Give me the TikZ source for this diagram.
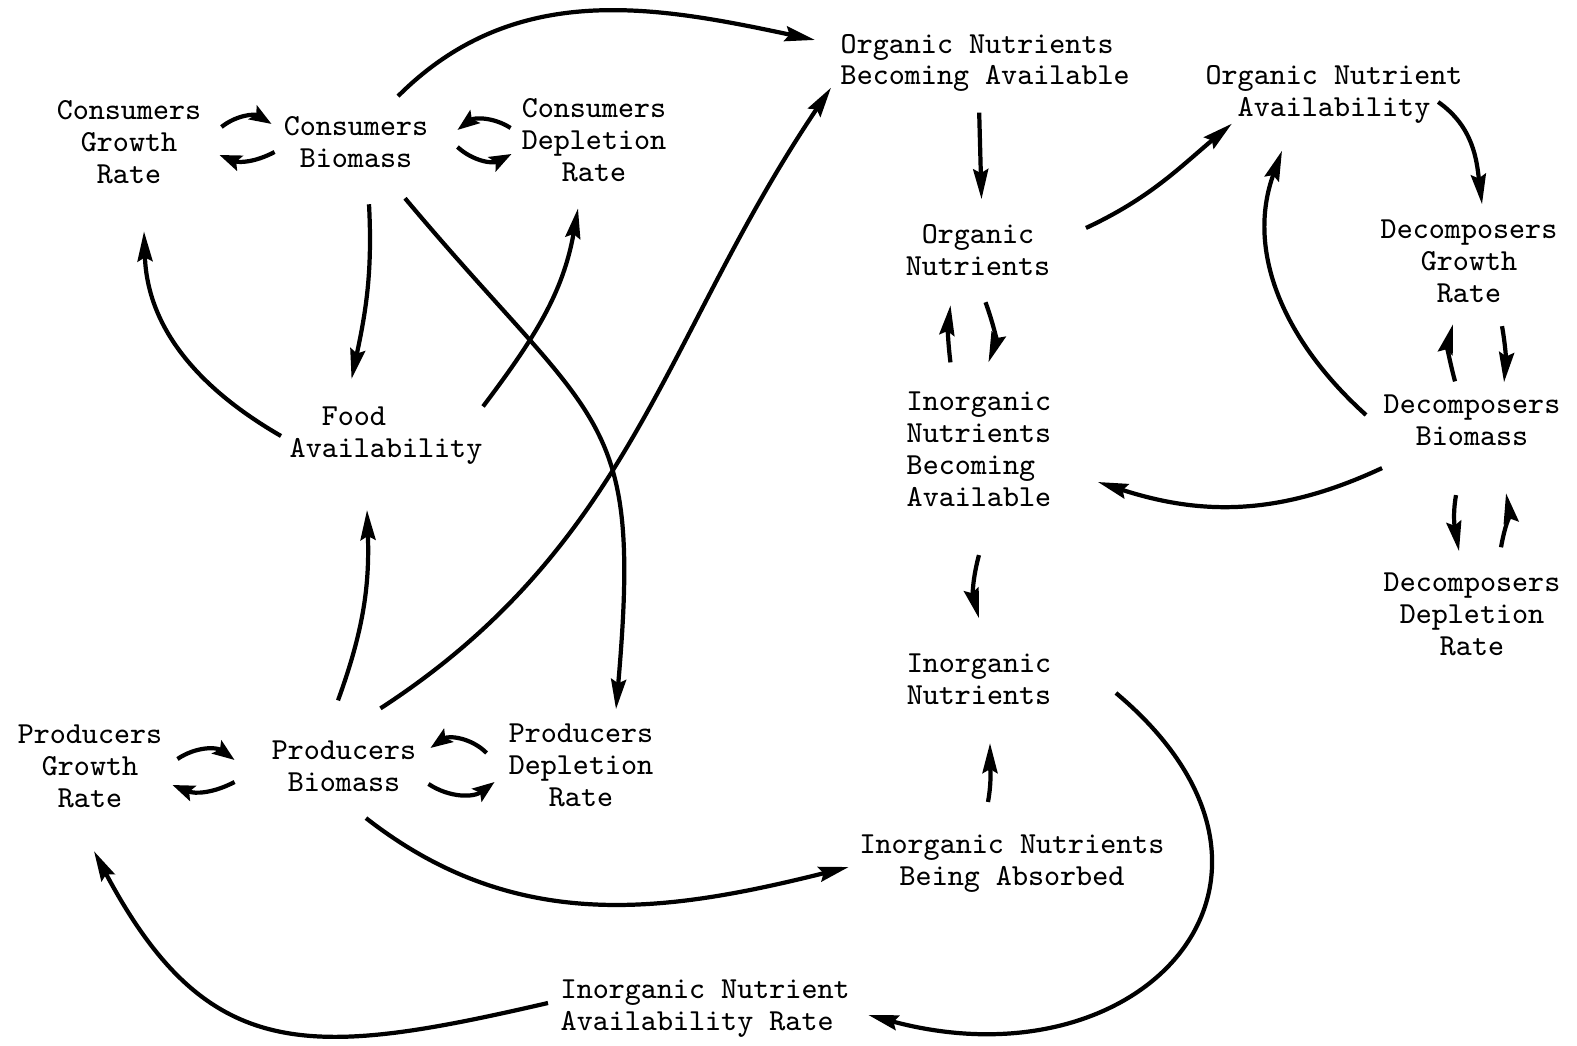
\documentclass[tikz,border=0pt]{standalone}
\usepackage{fontspec}
\usepackage{tikz}
\usetikzlibrary{arrows.meta, positioning}

\tikzset{
	var/.style={font=\fontsize{8.7}{9.1}\selectfont\ttfamily, align=center, inner sep=0pt},
	lvar/.style={var, align=left, anchor=west},
	link/.style={-{Stealth[length=3mm,width=1.5mm,inset=0.4mm]}, line width=1.2pt},
	loop/.style={-{Stealth[length=2.2mm,width=1.6mm,inset=0.4mm]}, line width=1.2pt}
}

\begin{document}
\begin{tikzpicture}
		\useasboundingbox (0,0) rectangle (15.77,10.46);
		%% consumers
		\node[var] (cgr) at (1.29,9.04) {Consumers\\Growth\\Rate};
		\node[var] (cb) at (3.56,9.04) {Consumers\\Biomass};
		\node[var] (cdr) at (5.94,9.06) {Consumers\\Depletion\\Rate};
		\node[lvar] (food) at (2.89,6.10) {\hphantom{Av}Food\\Availability};
		%% producers
		\node[var] (pgr) at (0.90,2.80) {Producers\\Growth\\Rate};
		\node[var] (pb) at (3.44,2.80) {Producers\\Biomass};
		\node[var] (pdr) at (5.81,2.81) {Producers\\Depletion\\Rate};
		\node[lvar] (inar) at (5.60,0.37) {Inorganic Nutrient\\Availability Rate};
		%% nutrients
		\node[lvar] (onba) at (8.40,9.83) {Organic Nutrients\\Becoming Available};
		\node[var] (onut) at (9.78,7.96) {Organic\\Nutrients};
		\node[lvar] (inba) at (9.06,5.97) {Inorganic\\Nutrients\\Becoming\\Available};
		\node[var] (inut) at (9.79,3.67) {Inorganic\\Nutrients};
		\node[var] (inab) at (10.12,1.82) {Inorganic Nutrients\\Being Absorbed};
		%% decomposers
		\node[var] (ona) at (13.34,9.52) {Organic Nutrient\\Availability};
		\node[var] (dgr) at (14.69,7.85) {Decomposers\\Growth\\Rate};
		\node[var] (db) at (14.72,6.26) {Decomposers\\Biomass};
		\node[var] (ddr) at (14.72,4.32) {Decomposers\\Depletion\\Rate};
		
		\draw[loop] ([xshift=1.95mm,yshift=1.5mm]cgr.east) to[bend left=35] ([xshift=-1.15mm,yshift=1.8mm]cb.west);
		\draw[loop] ([xshift=-0.85mm,yshift=-1mm]cb.west) to[bend left=25] ([xshift=1.75mm,yshift=-1.3mm]cgr.east);
		\draw[loop] ([xshift=-1.05mm,yshift=1.2mm]cdr.west) to[bend right=35] ([xshift=2.85mm,yshift=1.2mm]cb.east);
		\draw[loop] ([xshift=2.85mm,yshift=-0.5mm]cb.east) to[bend right=35] ([xshift=-0.95mm,yshift=-1.4mm]cdr.west);
		\draw[link] ([xshift=1.3mm,yshift=-3.6mm]cb.south) to[out=-87,in=78] ([xshift=-3.45mm,yshift=2.75mm]food.north);
		\draw[link] ([xshift=4.9mm,yshift=-3mm]cb.south) to[out=-50,in=85,looseness=1.4] ([xshift=3.5mm,yshift=1.35mm]pdr.north);
		\draw[link] ([xshift=4.2mm,yshift=1.95mm]cb.north) to[out=45,in=168] ([xshift=-2.5mm,yshift=2.3mm]onba.west);
		\draw[link] ([xshift=-0.8mm]food.west) to[out=150,in=-88] ([xshift=1.5mm,yshift=-4.7mm]cgr.south);
		\draw[link] (food.north east) to[out=53,in=-100] ([xshift=-1.6mm,yshift=-2.6mm]cdr.south);
		
		\draw[link] ([xshift=-0.6mm,yshift=3.95mm]pb.north) to[out=70,in=-88] ([xshift=-1.9mm,yshift=-4.45mm]food.south);
		\draw[link] ([xshift=-3.65mm,yshift=3.15mm]pb.north east) to[out=33,in=236] ([xshift=-0.9mm,yshift=0.5mm]onba.south west);
		\draw[loop] ([xshift=1.45mm,yshift=0.7mm]pgr.east) to[bend left=35] ([xshift=-3.65mm,yshift=0.6mm]pb.west);
		\draw[loop] ([xshift=-3.65mm,yshift=-1.6mm]pb.west) to[bend left=25] ([xshift=0.95mm,yshift=-1.9mm]pgr.east);
		\draw[loop] ([xshift=-2.15mm,yshift=1.2mm]pdr.west) to[bend right=40] ([xshift=1.35mm,yshift=1.8mm]pb.east);
		\draw[loop] ([xshift=1.15mm,yshift=-1.8mm]pb.east) to[bend right=35] ([xshift=-1.35mm,yshift=-1.7mm]pdr.west);
		\draw[link] ([xshift=2.2mm,yshift=-2.6mm]pb.south) to[out=-38,in=194] ([xshift=-1mm,yshift=-0.3mm]inab.west);
		\draw[link] ([xshift=-1.2mm,yshift=0.6mm]inar.west) to[out=193,in=-62,looseness=1.3] ([xshift=0.4mm,yshift=-4.3mm]pgr.south);
		
		\draw[link] ([xshift=6.4mm,yshift=-1.4mm]inut.east) to[out=-40,in=-15,looseness=1.8] ([xshift=1.8mm,yshift=-0.6mm]inar.east);
		\draw[link] ([xshift=-2.4mm,yshift=3.25mm]inab.north) to[out=80,in=-90] ([xshift=1.1mm,yshift=-3.8mm]inut.south);
		\draw[link] ([yshift=-4.8mm]inba.south) to[out=-105,in=105] ([yshift=3.45mm]inut.north);
		\draw[link] ([xshift=0.75mm,yshift=-2.6mm]onut.south) to[out=-70,in=70] ([xshift=0.95mm,yshift=2.85mm]inba.north);
		\draw[link] ([xshift=-2.85mm,yshift=2.85mm]inba.north) to[out=97,in=-97] ([xshift=-2.75mm,yshift=-2.9mm]onut.south);
		\draw[link] ([xshift=-0.6mm,yshift=-2mm]onba.south) -- ([xshift=0.35mm,yshift=2.45mm]onut.north);
		\draw[link] ([xshift=3.5mm,yshift=2.2mm]onut.east) to[out=25,in=-140] ([xshift=2.7mm]ona.south west);
		
		\draw[link] ([xshift=-2.5mm,yshift=-0.8mm]ona.east) to[out=-35,in=97] ([xshift=1.3mm,yshift=1.45mm]dgr.north);
		\draw[link] ([xshift=3.3mm,yshift=-2.3mm]dgr.south) to[out=-80,in=85] ([xshift=3.2mm,yshift=1.15mm]db.north);
		\draw[link] ([xshift=-1.7mm,yshift=1.25mm]db.north) to[out=105,in=-105] ([xshift=-1.6mm,yshift=-2.1mm]dgr.south);
		\draw[link] ([xshift=-1.7mm,yshift=0.5mm]db.west) to[out=138,in=-110] ([xshift=-5.2mm,yshift=-2.7mm]ona.south);
		\draw[link] ([xshift=-0.1mm,yshift=-2.2mm]db.south west) to[out=205,in=-18] ([xshift=4.6mm,yshift=-3.3mm]inba.east);
		\draw[link] ([xshift=-1.6mm,yshift=-4.9mm]db.south) to[out=-100,in=100] ([xshift=-1.3mm,yshift=2.05mm]ddr.north);
		\draw[link] ([xshift=2.9mm,yshift=2.45mm]ddr.north) to[out=80,in=-80] ([xshift=3.4mm,yshift=-4.7mm]db.south);
\end{tikzpicture}
\end{document}
